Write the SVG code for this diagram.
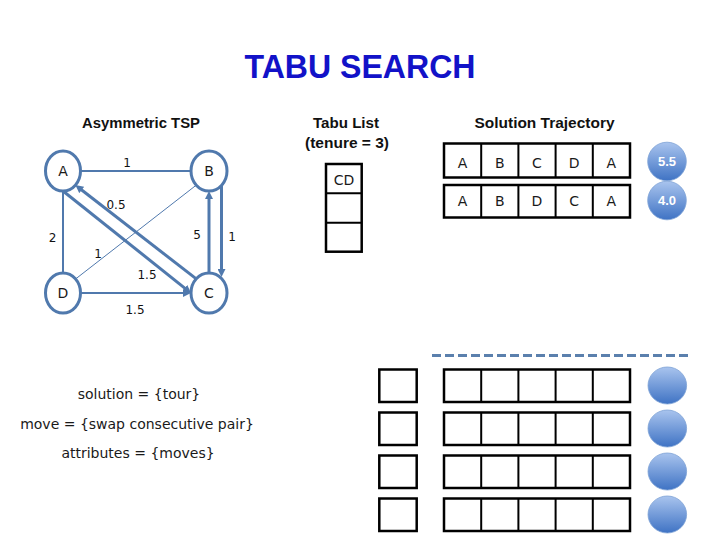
<svg xmlns="http://www.w3.org/2000/svg" width="720" height="540" viewBox="0 0 720 540">
<style>
.title{font-family:"Liberation Sans",Arial,sans-serif;font-weight:bold;font-size:34px;fill:#1212c8;text-anchor:middle}
.head{font-family:"Liberation Sans",Arial,sans-serif;font-weight:bold;font-size:14px;fill:#111;text-anchor:middle}
.lbl{font-family:"DejaVu Sans",Verdana,sans-serif;font-size:14px;fill:#1a1a1a;text-anchor:middle}
.elbl{font-family:"DejaVu Sans",Verdana,sans-serif;font-size:12px;fill:#111;text-anchor:middle}
.val{font-family:"Liberation Sans",Arial,sans-serif;font-weight:bold;font-size:13px;fill:#fff;text-anchor:middle}
.node{fill:#fff;stroke:#5079ad;stroke-width:3}
.e{stroke:#5079ad;fill:none}
.box{fill:#fff;stroke:#000;stroke-width:2.5}
.cell{stroke:#000;stroke-width:2}
.ball{fill:url(#g);stroke:#7ea2d6;stroke-width:0.8}
</style>
<defs>
<marker id="ar" markerUnits="userSpaceOnUse" markerWidth="9" markerHeight="8" refX="2" refY="4" orient="auto">
<path d="M0,0 L8,4 L0,8 z" fill="#5079ad"/>
</marker>
<linearGradient id="g" x1="0" y1="0" x2="0" y2="1">
<stop offset="0" stop-color="#a9c4ee"/>
<stop offset="1" stop-color="#3f73c4"/>
</linearGradient>
</defs>
<rect width="720" height="540" fill="#fff"/>

<text class="title" x="360" y="78" textLength="231" lengthAdjust="spacingAndGlyphs">TABU SEARCH</text>
<text class="head" x="141" y="127.5" textLength="118" lengthAdjust="spacingAndGlyphs">Asymmetric TSP</text>
<text class="head" x="346" y="127.5" textLength="66" lengthAdjust="spacingAndGlyphs">Tabu List</text>
<text class="head" x="347" y="148" textLength="84" lengthAdjust="spacingAndGlyphs">(tenure = 3)</text>
<text class="head" x="544.5" y="127.5" textLength="140" lengthAdjust="spacingAndGlyphs">Solution Trajectory</text>

<g id="connectors">
<line class="e" x1="80.5" y1="171" x2="191" y2="171" stroke-width="2"/>
<line class="e" x1="63" y1="191" x2="63" y2="273" stroke-width="2"/>
<line class="e" x1="75.7" y1="278.9" x2="196.3" y2="185.1" stroke-width="1"/>
<line class="e" x1="63" y1="191" x2="186.3" y2="289.3" stroke-width="3" marker-end="url(#ar)"/>
<line class="e" x1="196.3" y1="278.9" x2="80.1" y2="188.8" stroke-width="3" marker-end="url(#ar)"/>
<line class="e" x1="209" y1="273" x2="209" y2="197" stroke-width="3" marker-end="url(#ar)"/>
<line class="e" x1="221.5" y1="186" x2="221.5" y2="271" stroke-width="3" marker-end="url(#ar)"/>
<line class="e" x1="80.5" y1="293" x2="185" y2="293" stroke-width="2" marker-end="url(#ar)"/>
<text class="elbl" x="127" y="166.5">1</text>
<text class="elbl" x="116" y="208.5">0.5</text>
<text class="elbl" x="52.5" y="241.5">2</text>
<text class="elbl" x="98" y="258">1</text>
<text class="elbl" x="147" y="278.5">1.5</text>
<text class="elbl" x="197" y="238.5">5</text>
<text class="elbl" x="232" y="241">1</text>
<text class="elbl" x="135" y="314">1.5</text>
</g>

<g id="node-A"><ellipse class="node" cx="63" cy="171" rx="17.5" ry="20"/><text class="lbl" x="63" y="176">A</text></g>
<g id="node-B"><ellipse class="node" cx="209" cy="171" rx="18" ry="20"/><text class="lbl" x="209" y="176">B</text></g>
<g id="node-C"><ellipse class="node" cx="209" cy="293" rx="18" ry="20"/><text class="lbl" x="209" y="298">C</text></g>
<g id="node-D"><ellipse class="node" cx="63" cy="293" rx="17.5" ry="20"/><text class="lbl" x="63" y="298">D</text></g>

<g id="tabu-list">
<rect class="box" x="326" y="164" width="35.7" height="87.7"/>
<line class="cell" x1="326" y1="193.3" x2="361.7" y2="193.3"/>
<line class="cell" x1="326" y1="222.7" x2="361.7" y2="222.7"/>
<text class="lbl" x="344" y="185">CD</text>
</g>

<g id="trajectory-1">
<rect class="box" x="444" y="143.5" width="186" height="34"/>
<path class="cell" d="M481.2,143.5V177.5M518.4,143.5V177.5M555.6,143.5V177.5M592.8,143.5V177.5"/>
<text class="lbl" x="462.6" y="168">A</text><text class="lbl" x="499.8" y="168">B</text><text class="lbl" x="537" y="168">C</text><text class="lbl" x="574.2" y="168">D</text><text class="lbl" x="611.4" y="168">A</text>
<circle class="ball" cx="667" cy="161.5" r="19.3"/><text class="val" x="667" y="166">5.5</text>
</g>
<g id="trajectory-2">
<rect class="box" x="444" y="185" width="186" height="32.5"/>
<path class="cell" d="M481.2,185V217.5M518.4,185V217.5M555.6,185V217.5M592.8,185V217.5"/>
<text class="lbl" x="462.6" y="206">A</text><text class="lbl" x="499.8" y="206">B</text><text class="lbl" x="537" y="206">D</text><text class="lbl" x="574.2" y="206">C</text><text class="lbl" x="611.4" y="206">A</text>
<circle class="ball" cx="667" cy="200.5" r="19.3"/><text class="val" x="667" y="205">4.0</text>
</g>

<line x1="432" y1="355.5" x2="688" y2="355.5" stroke="#5b80ad" stroke-width="3" stroke-dasharray="9 4"/>

<g id="row-1">
<rect class="box" x="379.3" y="369.5" width="37.4" height="32.5"/>
<rect class="box" x="444" y="369.5" width="186" height="32.5"/>
<path class="cell" d="M481.2,369.5V402M518.4,369.5V402M555.6,369.5V402M592.8,369.5V402"/>
<ellipse class="ball" cx="667.3" cy="385.5" rx="19.3" ry="18.5"/>
</g>
<g id="row-2">
<rect class="box" x="379.3" y="412.5" width="37.4" height="32.5"/>
<rect class="box" x="444" y="412.5" width="186" height="32.5"/>
<path class="cell" d="M481.2,412.5V445M518.4,412.5V445M555.6,412.5V445M592.8,412.5V445"/>
<ellipse class="ball" cx="667.3" cy="428.5" rx="19.3" ry="18.5"/>
</g>
<g id="row-3">
<rect class="box" x="379.3" y="455.5" width="37.4" height="32.5"/>
<rect class="box" x="444" y="455.5" width="186" height="32.5"/>
<path class="cell" d="M481.2,455.5V488M518.4,455.5V488M555.6,455.5V488M592.8,455.5V488"/>
<ellipse class="ball" cx="667.3" cy="471.5" rx="19.3" ry="18.5"/>
</g>
<g id="row-4">
<rect class="box" x="379.3" y="498.5" width="37.4" height="32.5"/>
<rect class="box" x="444" y="498.5" width="186" height="32.5"/>
<path class="cell" d="M481.2,498.5V531M518.4,498.5V531M555.6,498.5V531M592.8,498.5V531"/>
<ellipse class="ball" cx="667.3" cy="514.5" rx="19.3" ry="18.5"/>
</g>

<g id="notes">
<text class="lbl" x="139" y="399">solution = {tour}</text>
<text class="lbl" x="137" y="428.5">move = {swap consecutive pair}</text>
<text class="lbl" x="138" y="458">attributes = {moves}</text>
</g>
</svg>
